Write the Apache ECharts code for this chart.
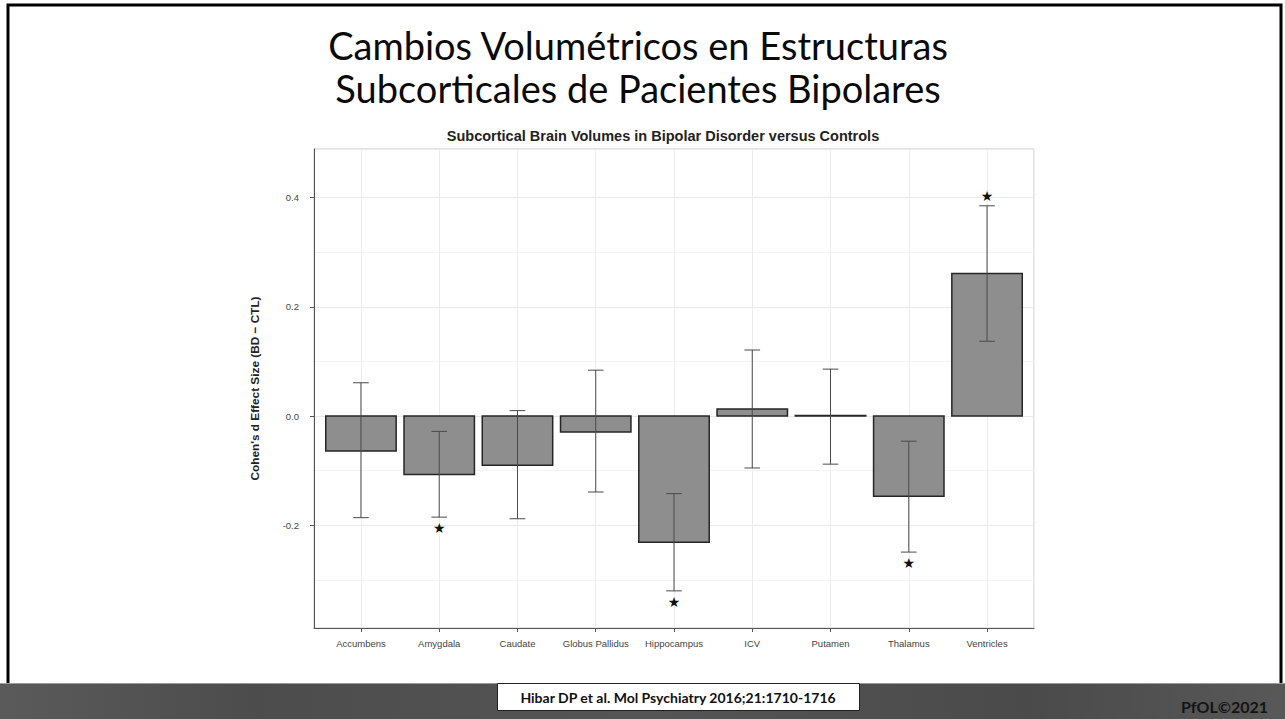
<!DOCTYPE html>
<html>
<head>
<meta charset="utf-8">
<script src="https://cdn.jsdelivr.net/npm/echarts@6/dist/echarts.min.js"></script>
<style>
  html, body { margin: 0; padding: 0; background: #ffffff; }
  #chart { width: 1285px; height: 719px; }
</style>
</head>
<body>
<div id="chart"></div>
<script>
// ---- data ----
const categories = ['Accumbens', 'Amygdala', 'Caudate', 'Globus Pallidus', 'Hippocampus', 'ICV', 'Putamen', 'Thalamus', 'Ventricles'];
const effectSize = [-0.064, -0.107, -0.090, -0.029, -0.231, 0.013, 0.001, -0.147, 0.261];
const ciLower    = [-0.186, -0.185, -0.188, -0.139, -0.320, -0.095, -0.088, -0.249, 0.137];
const ciUpper    = [ 0.061, -0.028,  0.010,  0.084, -0.142,  0.121,  0.086, -0.046, 0.385];
const significant = [false, true, false, false, true, false, false, true, true];
const minorGridValues = [-0.3, -0.1, 0.1, 0.3];

const titleLines = ['Cambios Volumétricos en Estructuras', 'Subcorticales de Pacientes Bipolares'];
const plotTitle = 'Subcortical Brain Volumes in Bipolar Disorder versus Controls';
const yAxisTitle = "Cohen's d Effect Size (BD \u2212 CTL)";
const citation = 'Hibar DP et al. Mol Psychiatry 2016;21:1710-1716';
const copyrightText = 'PfOL\u00A92021';

const chart = echarts.init(document.getElementById('chart'), null, { renderer: 'svg' });

const barData = categories.map((c, i) => [i, effectSize[i]]);
const errData = categories.map((c, i) => [i, ciLower[i], ciUpper[i], significant[i] ? 1 : 0, effectSize[i]]);

const option = {
  backgroundColor: '#ffffff',
  animation: false,
  grid: {
    left: 314, top: 149, width: 720, height: 479,
    show: true, borderColor: '#c9c9c9', borderWidth: 1, backgroundColor: 'transparent'
  },
  xAxis: {
    type: 'value', min: -0.6, max: 8.6, splitNumber: 9,
    axisLine: { show: true, onZero: false, lineStyle: { color: '#555', width: 1 } },
    axisTick: { show: true, length: 4, lineStyle: { color: '#555' } },
    axisLabel: {
      show: true, margin: 10, color: '#444', fontSize: 9.5, fontFamily: 'Liberation Sans, Arial, sans-serif',
      showMinLabel: false, showMaxLabel: false,
      formatter: v => (Number.isInteger(v) && categories[v] !== undefined) ? categories[v] : ''
    },
    splitLine: { show: true, lineStyle: { color: '#ececec', width: 1 } }
  },
  yAxis: {
    type: 'value', min: -0.388, max: 0.489, splitNumber: 4,
    name: yAxisTitle, nameLocation: 'middle', nameGap: 53, nameRotate: 90,
    nameTextStyle: { color: '#222', fontSize: 11.8, fontWeight: 'bold', fontFamily: 'Liberation Sans, Arial, sans-serif' },
    axisLine: { show: true, onZero: false, lineStyle: { color: '#555', width: 1 } },
    axisTick: { show: true, length: 4, lineStyle: { color: '#555' } },
    axisLabel: {
      show: true, margin: 15, color: '#444', fontSize: 9.5, fontFamily: 'Liberation Sans, Arial, sans-serif',
      showMinLabel: false, showMaxLabel: false,
      formatter: v => v.toFixed(1)
    },
    splitLine: { show: true, lineStyle: { color: '#e9e9e9', width: 1 } }
  },
  series: [
    {
      type: 'line', data: [], silent: true, z: 0, zlevel: 0,
      markLine: {
        silent: true, symbol: 'none', label: { show: false }, z: 0,
        lineStyle: { color: '#f3f3f3', width: 1, type: 'solid' },
        data: minorGridValues.map(v => ({ yAxis: v }))
      }
    },
    {
      type: 'custom', name: 'effect', data: barData, z: 5,
      renderItem: (params, api) => {
        const i = api.value(0), v = api.value(1);
        const p0 = api.coord([i - 0.45, 0]);
        const p1 = api.coord([i + 0.45, v]);
        return {
          type: 'rect',
          shape: { x: p0[0], y: Math.min(p0[1], p1[1]), width: p1[0] - p0[0], height: Math.abs(p1[1] - p0[1]) },
          style: { fill: '#8e8e8e', stroke: '#262626', lineWidth: 1.5 }
        };
      }
    },
    {
      type: 'custom', name: 'ci', data: errData, z: 6,
      renderItem: (params, api) => {
        const i = api.value(0), lo = api.value(1), hi = api.value(2), sig = api.value(3), eff = api.value(4);
        const pLo = api.coord([i, lo]);
        const pHi = api.coord([i, hi]);
        const cap = api.size([0.1, 0])[0];
        const lineStyle = { stroke: '#4a4a4a', lineWidth: 1 };
        const children = [
          { type: 'line', shape: { x1: pLo[0], y1: pLo[1], x2: pHi[0], y2: pHi[1] }, style: lineStyle },
          { type: 'line', shape: { x1: pLo[0] - cap, y1: pLo[1], x2: pLo[0] + cap, y2: pLo[1] }, style: lineStyle },
          { type: 'line', shape: { x1: pHi[0] - cap, y1: pHi[1], x2: pHi[0] + cap, y2: pHi[1] }, style: lineStyle }
        ];
        if (sig) {
          const y = eff < 0 ? pLo[1] + 11 : pHi[1] - 10;
          children.push({
            type: 'text',
            style: { x: pLo[0], y: y, text: '\u2605', fill: '#111', fontSize: 14, fontFamily: 'DejaVu Sans', align: 'center', verticalAlign: 'middle' }
          });
        }
        return { type: 'group', children: children };
      }
    }
  ],
  graphic: [
    { type: 'rect', z: -1, shape: { x: 8, y: 5, width: 1273, height: 730 }, style: { fill: 'none', stroke: '#000', lineWidth: 3 } },
    { type: 'text', x: 638, y: 45, style: { text: titleLines[0], fill: '#0a0a0a', fontSize: 38, fontFamily: 'Lato', align: 'center', verticalAlign: 'middle' } },
    { type: 'text', x: 638, y: 88, style: { text: titleLines[1], fill: '#0a0a0a', fontSize: 38, fontFamily: 'Lato', align: 'center', verticalAlign: 'middle' } },
    { type: 'text', x: 663, y: 136, style: { text: plotTitle, fill: '#222', fontSize: 14.5, fontWeight: 'bold', fontFamily: 'Liberation Sans', align: 'center', verticalAlign: 'middle' } },
    { type: 'rect', shape: { x: 0, y: 683, width: 1285, height: 36 }, style: {
        fill: { type: 'linear', x: 0, y: 0, x2: 1, y2: 0, colorStops: [
          { offset: 0, color: '#5a5a5a' }, { offset: 0.2, color: '#4c4c4c' }, { offset: 0.5, color: '#555' },
          { offset: 0.8, color: '#4a4a4a' }, { offset: 1, color: '#585858' } ] } } },
    { type: 'line', shape: { x1: 0, y1: 683.5, x2: 1285, y2: 683.5 }, style: { stroke: '#9a9a9a', lineWidth: 1 } },
    { type: 'rect', shape: { x: 497.5, y: 683.5, width: 362, height: 27 }, style: { fill: '#fff', stroke: '#222', lineWidth: 1 } },
    { type: 'text', x: 678, y: 697, style: { text: citation, fill: '#111', fontSize: 14, fontWeight: 'bold', fontFamily: 'Lato', align: 'center', verticalAlign: 'middle' } },
    { type: 'text', x: 1268, y: 706, style: { text: copyrightText, fill: '#141414', fontSize: 16, fontWeight: 'bold', fontFamily: 'Lato', align: 'right', verticalAlign: 'middle' } }
  ]
};
chart.setOption(option);
</script>
</body>
</html>
